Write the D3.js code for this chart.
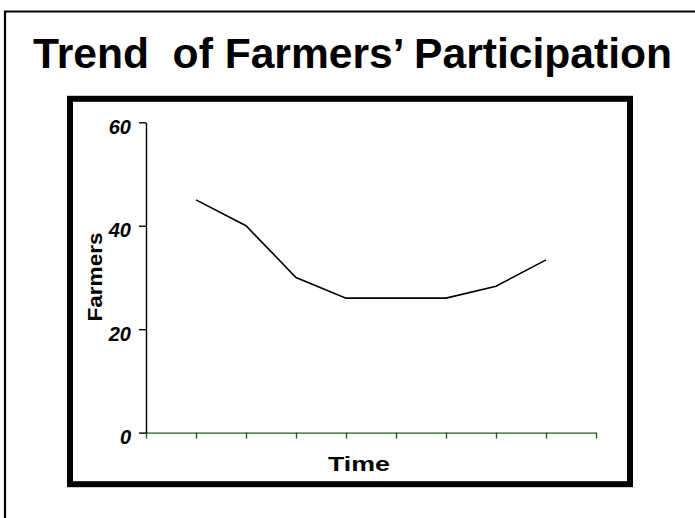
<!DOCTYPE html>
<html>
<head>
<meta charset="utf-8">
<script src="https://cdn.jsdelivr.net/npm/d3@7"></script>
<style>
  html, body { margin: 0; padding: 0; background: #fff; }
  svg { display: block; }
  text { font-family: "Liberation Sans", Arial, sans-serif; }
</style>
</head>
<body>
<div id="chart"></div>
<script>
// ---- data ----
const title = "Trend  of Farmers\u2019 Participation";
const xLabel = "Time";
const yLabel = "Farmers";
const periods = [1, 2, 3, 4, 5, 6, 7, 8];
const farmers = [45, 40, 30, 26, 26, 26, 28.3, 33.4];
const xTickPositions = [0, 1, 2, 3, 4, 5, 6, 7, 8, 9];
const yTicks = [0, 20, 40, 60];

// ---- drawing ----
const W = 695, H = 518;
const svg = d3.select("#chart").append("svg")
  .attr("width", W).attr("height", H);

svg.append("rect").attr("width", W).attr("height", H).attr("fill", "#fff");

// outer frame (open at right and bottom)
svg.append("path")
  .attr("d", `M5,${H} V11.5 H${W}`)
  .attr("fill", "none").attr("stroke", "#000").attr("stroke-width", 2.2);

// title
svg.append("text")
  .attr("x", 33).attr("y", 68)
  .attr("textLength", 639).attr("lengthAdjust", "spacingAndGlyphs")
  .attr("font-size", 42).attr("font-weight", "bold")
  .attr("fill", "#000")
  .style("white-space", "pre")
  .text(title);

// inner box
svg.append("rect")
  .attr("x", 70).attr("y", 98.8).attr("width", 560).attr("height", 385.4)
  .attr("fill", "#fff").attr("stroke", "#000").attr("stroke-width", 6);

const x = d3.scaleLinear().domain([0, 9]).range([146, 596]);
const y = d3.scaleLinear().domain([0, 60]).range([432.6, 122.3]);

// x axis
const gx = svg.append("g")
  .attr("transform", `translate(0,${y(0)})`)
  .call(d3.axisBottom(x).tickValues(xTickPositions).tickSize(6).tickSizeOuter(0).tickFormat(""));
gx.selectAll("path, line").attr("stroke", "#1f5f1f").attr("stroke-width", 1.4);

// y axis
const gy = svg.append("g")
  .attr("transform", `translate(${x(0)},0)`)
  .call(d3.axisLeft(y).tickValues(yTicks).tickSize(7).tickSizeOuter(0).tickPadding(8).tickFormat(d3.format("d")));
gy.attr("font-size", null).attr("font-family", null);
gy.selectAll("path, line").attr("stroke", "#000").attr("stroke-width", 1.4);
gy.selectAll("text")
  .attr("dy", "0.56em")
  .style("font-size", "20px").style("font-weight", "bold").style("font-style", "italic")
  .style("font-family", "'Liberation Sans', Arial, sans-serif")
  .attr("fill", "#000");

// line
const line = d3.line().x((d, i) => x(periods[i])).y(d => y(d));
svg.append("path")
  .datum(farmers)
  .attr("d", line)
  .attr("fill", "none").attr("stroke", "#000").attr("stroke-width", 1.6);

// axis titles
svg.append("text")
  .attr("x", 359).attr("y", 470.5)
  .attr("text-anchor", "middle")
  .attr("textLength", 62).attr("lengthAdjust", "spacingAndGlyphs")
  .attr("font-size", 20).attr("font-weight", "bold").attr("fill", "#000")
  .text(xLabel);

svg.append("text")
  .attr("transform", "translate(101.5,277) rotate(-90)")
  .attr("text-anchor", "middle")
  .attr("textLength", 89).attr("lengthAdjust", "spacingAndGlyphs")
  .attr("font-size", 21).attr("font-weight", "bold").attr("fill", "#000")
  .text(yLabel);
</script>
</body>
</html>
